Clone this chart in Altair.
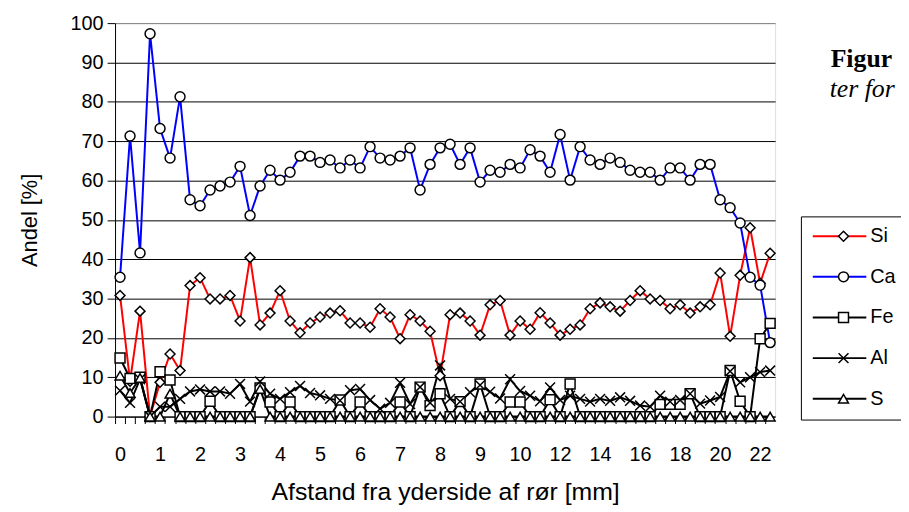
import json
import altair as alt
import pandas as pd

# x categories (mm) - category axis, evenly spaced points
distances = [0, 0.25, 0.5, 0.75, 1, 1.25, 1.5, 1.75, 2, 2.25, 2.5, 2.75, 3, 3.25, 3.5, 3.75,
             4, 4.25, 4.5, 4.75, 5, 5.25, 5.5, 5.75, 6, 6.25, 6.5, 6.75, 7, 7.25, 7.5, 7.75,
             8, 8.25, 8.5, 8.75, 9, 9.25, 9.5, 9.75, 10, 10.5, 11, 11.5, 12, 12.5, 13, 13.5,
             14, 14.5, 15, 15.5, 16, 16.5, 17, 17.5, 18, 18.5, 19, 19.5, 20, 20.5, 21, 21.5,
             22, 22.5]
tick_labels = ["0", "1", "2", "3", "4", "5", "6", "7", "8", "9", "10",
               "12", "14", "16", "18", "20", "22"]
y_ticks = [0, 10, 20, 30, 40, 50, 60, 70, 80, 90, 100]

series_names = ["Si", "Ca", "Fe", "Al", "S"]
line_colors = ["#FF0000", "#0000FF", "#000000", "#000000", "#000000"]
marker_shapes = ["diamond", "circle", "square", "M-1,-1L1,1M1,-1L-1,1", "triangle-up"]

si = [30.8, 9.0, 26.8, 0.0, 8.7, 15.9, 11.7, 33.3, 35.3, 29.9,
      29.9, 30.8, 24.3, 40.4, 23.3, 26.3, 32.0, 24.3, 21.3, 23.8,
      25.3, 26.3, 26.9, 23.8, 23.8, 22.7, 27.4, 25.3, 19.8, 25.9,
      24.3, 21.7, 10.4, 25.9, 26.3, 24.3, 20.7, 28.4, 29.5, 20.7,
      24.3, 22.2, 26.4, 23.8, 20.7, 22.2, 23.3, 27.4, 28.9, 27.9,
      26.8, 29.5, 32.0, 29.9, 29.5, 27.4, 28.4, 26.3, 27.9, 28.4,
      36.5, 20.4, 35.9, 48.0, 33.9, 41.5]
ca = [35.4, 71.3, 41.6, 97.3, 73.2, 65.7, 81.3, 55.1, 53.6, 57.6,
      58.6, 59.6, 63.6, 51.1, 58.6, 62.6, 60.1, 62.1, 66.2, 66.2,
      64.6, 65.2, 63.2, 65.2, 63.2, 68.6, 65.7, 65.2, 66.2, 68.3,
      57.6, 64.1, 68.3, 69.2, 64.1, 68.3, 59.6, 62.6, 62.1, 64.1,
      63.2, 67.8, 66.2, 62.1, 71.7, 60.1, 68.6, 65.2, 64.1, 65.7,
      64.6, 62.6, 62.1, 62.1, 60.1, 63.2, 63.2, 60.1, 64.1, 64.1,
      55.1, 53.1, 49.2, 35.4, 33.4, 18.8]
fe = [14.9, 9.7, 10.0, 0, 11.4, 9.3, 0, 0, 0, 3.9,
      0, 0, 0, 0, 7.3, 3.7, 0, 3.7, 0, 0,
      0, 0, 4.2, 0, 3.7, 0, 0, 0, 3.7, 0,
      7.5, 2.8, 5.8, 0, 3.8, 0, 8.3, 0, 0, 3.7,
      3.7, 0, 0, 4.3, 0, 8.3, 0, 0, 0, 0,
      0, 0, 0, 0, 3.1, 3.1, 3.1, 5.8, 0, 0,
      0, 11.7, 3.9, 0, 19.8, 23.7]
al = [6.6, 3.5, 9.5, 0, 2.5, 2.5, 4.5, 6.4, 6.9, 6.4,
      6.4, 5.8, 8.3, 3.8, 8.9, 5.8, 4.5, 6.2, 7.8, 6.0,
      5.4, 4.5, 4.1, 6.7, 7.0, 4.2, 2.0, 3.5, 8.6, 3.2,
      7.5, 3.5, 13.0, 4.5, 3.8, 6.2, 8.0, 6.3, 4.6, 9.5,
      6.5, 5.3, 3.9, 7.4, 4.2, 5.3, 4.5, 3.8, 4.5, 4.0,
      4.9, 4.0, 2.8, 2.5, 5.3, 3.8, 4.2, 5.8, 3.3, 4.1,
      5.0, 11.5, 8.7, 10.0, 11.3, 11.7]
s = [10.4, 6.0, 9.8, 0, 0, 5.8, 0, 0, 0, 0,
     0, 0, 0, 0, 7.0, 0, 0, 0, 0, 0,
     0, 0, 0, 0, 0, 0, 0, 0, 0, 0,
     0, 0, 0, 0, 0, 0, 0, 0, 0, 0,
     0, 0, 0, 0, 0, 0, 0, 0, 0, 0,
     0, 0, 0, 0, 0, 0, 0, 0, 0, 0,
     0, 0, 0, 0, 0, 0]

cats = [f"{d:g}" for d in distances]
rows = []
for name, vals in zip(series_names, [si, ca, fe, al, s]):
    for k, (c, v) in enumerate(zip(cats, vals)):
        rows.append({"d": c, "idx": k, "serie": name, "serie2": name, "value": v})
df = pd.DataFrame(rows)

W, H = 666, 397
step = W / len(cats)
FONT = "Liberation Sans"
FS = 20

label_expr = "indexof(" + json.dumps(tick_labels) + ", datum.value) >= 0 ? datum.value : ''"

x_enc = alt.X(
    "d:O", sort=cats,
    scale=alt.Scale(paddingOuter=0.5),
    axis=alt.Axis(
        title="Afstand fra yderside af rør [mm]",
        labelExpr=label_expr, labelAngle=0, labelOverlap=False,
        tickOffset=-step / 2, labelOffset=step / 2,
        tickSize=7, tickColor="black", domainColor="black",
        labelFont=FONT, labelFontSize=FS, labelColor="black", labelPadding=21,
        titleFont=FONT, titleFontSize=25, titleFontWeight="normal", titleColor="black",
        titleBaseline="alphabetic", titleY=84, grid=False,
    ),
)
y_enc = alt.Y(
    "value:Q",
    scale=alt.Scale(domain=[0, 100], nice=False),
    axis=alt.Axis(
        title="Andel [%]", values=y_ticks, grid=True,
        gridColor=alt.condition("datum.value == 100", alt.value("#808080"), alt.value("black")),
        gridWidth=1, tickSize=8, tickColor="black", domainColor="black",
        labelFont=FONT, labelFontSize=FS, labelColor="black", labelPadding=4,
        titleFont=FONT, titleFontSize=22, titleFontWeight="normal", titleColor="black",
        titleX=-86, titleY=H / 2, titleBaseline="middle", titleAngle=-90,
    ),
)

lines = alt.Chart(df).mark_line(strokeWidth=2).encode(
    x=x_enc, y=y_enc,
    order=alt.Order("idx:Q"),
    color=alt.Color(
        "serie:N",
        scale=alt.Scale(domain=series_names, range=line_colors),
        legend=alt.Legend(
            title=None, orient="none", legendX=692, legendY=195,
            symbolType="stroke", symbolSize=2916, symbolStrokeWidth=2,
            labelFont=FONT, labelFontSize=FS, labelColor="black", labelOffset=3,
            padding=11, rowPadding=21, clipHeight=18,
            strokeColor="black", fillColor="white", labelLimit=200,
        ),
    ),
)

points = alt.Chart(df).mark_point(
    filled=True, fill="white", stroke="black", strokeWidth=1.5, size=100, opacity=1
).encode(
    x=x_enc, y=y_enc,
    shape=alt.Shape(
        "serie2:N",
        scale=alt.Scale(domain=series_names, range=marker_shapes),
        legend=alt.Legend(
            title=None, orient="none", legendX=692, legendY=195,
            symbolSize=100, symbolStrokeWidth=1.5, symbolOffset=22,
            labelFont=FONT, labelFontSize=FS, labelOpacity=0, labelOffset=3,
            labelExpr="' '",
            padding=11, rowPadding=21, clipHeight=18,
        ),
    ),
)

fig_text = alt.Chart(pd.DataFrame({"t": ["Figur"]})).mark_text(
    font="Liberation Serif", fontSize=26, fontWeight="bold", align="left",
    baseline="alphabetic", color="black"
).encode(x=alt.value(722), y=alt.value(44), text="t:N")
fig_text2 = alt.Chart(pd.DataFrame({"t": ["ter for"]})).mark_text(
    font="Liberation Serif", fontSize=26, fontStyle="italic", align="left",
    baseline="alphabetic", color="black"
).encode(x=alt.value(721), y=alt.value(75), text="t:N")

chart = alt.layer(lines, points, fig_text, fig_text2).resolve_scale(
    shape="independent"
).properties(
    width=W, height=H,
    autosize=alt.AutoSizeParams(type="none"),
    padding={"left": 108, "top": 13, "right": 127, "bottom": 93},
).configure_view(
    stroke="#808080", strokeWidth=1, fill="#FFFF99"
).configure(background="white")

chart.save("out.html", embed_options={"renderer": "svg", "actions": False})
